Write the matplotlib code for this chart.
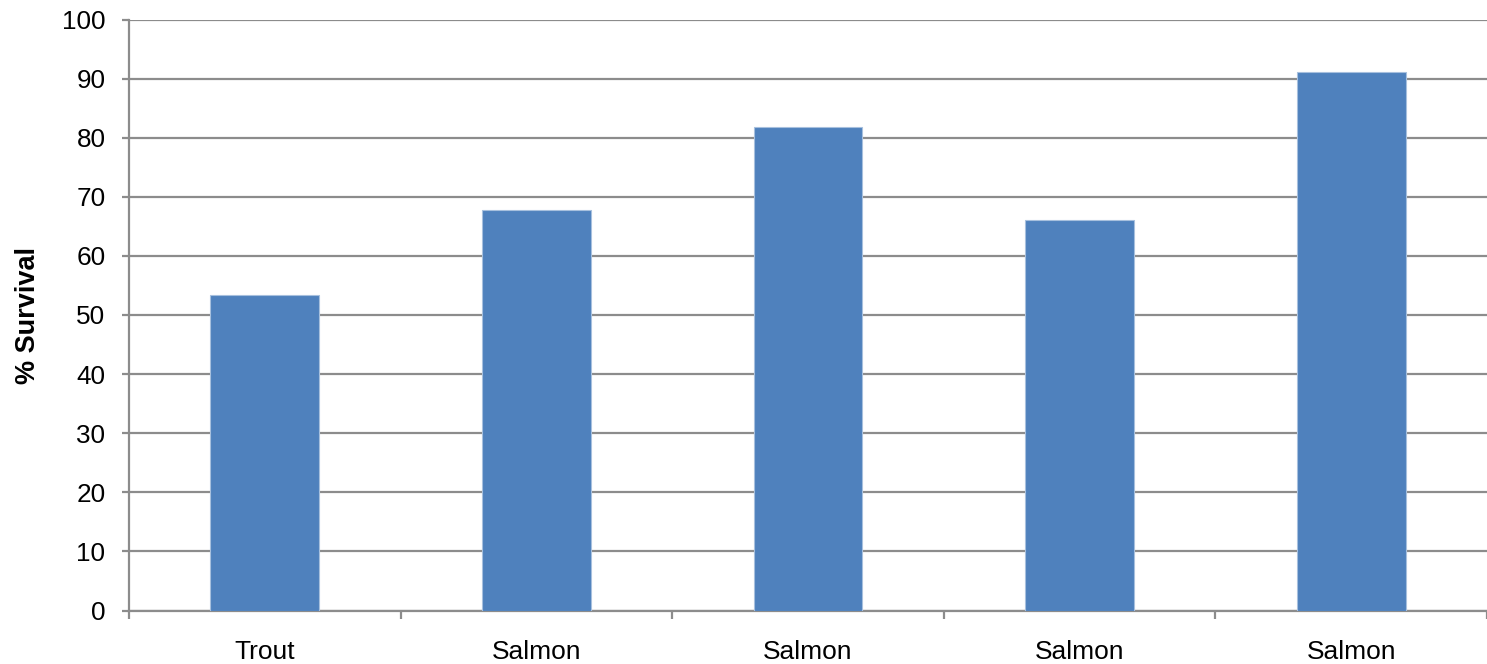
import numpy as np
import matplotlib.pyplot as plt

categories = ['Trout', 'Salmon', 'Salmon', 'Salmon', 'Salmon']
survival = [53.4, 67.7, 81.8, 66.0, 91.1]
yticks = list(range(0, 101, 10))

plt.rcParams['font.family'] = ['Liberation Sans', 'DejaVu Sans']

fig = plt.figure(figsize=(14.87, 6.64), dpi=100)
W, H = 1487, 664
ax = fig.add_axes([129 / W, 1 - 610.5 / H, (1487 - 129) / W, 591 / H])

x = np.arange(len(categories))
ax.bar(x, survival, width=0.4, color='#4F81BD', edgecolor='#A7C0DE', linewidth=0.8, zorder=3)

ax.set_xlim(-0.5, len(categories) - 0.5)
ax.set_ylim(0, 100)
ax.set_yticks(yticks)
ax.set_yticklabels([str(v) for v in yticks], fontsize=18.8)
ax.yaxis.grid(True, color='#8C8C8C', linewidth=1.6, zorder=0)
ax.set_axisbelow(True)

ax.set_xticks(x)
ax.set_xticklabels(categories, fontsize=19)
ax.set_xticks(np.arange(-0.5, len(categories)), minor=True)
ax.tick_params(axis='x', which='major', length=0, pad=21.5)
ax.tick_params(axis='x', which='minor', length=6, width=1.6, color='#8C8C8C', direction='out')
ax.tick_params(axis='y', length=5, width=1.6, color='#8C8C8C', pad=12)

for s in ['top', 'right']:
    ax.spines[s].set_visible(False)
for s in ['left', 'bottom']:
    ax.spines[s].set_color('#8C8C8C')
    ax.spines[s].set_linewidth(1.6)

ax.set_ylabel('% Survival', fontsize=19.5, fontweight='bold')
ax.yaxis.set_label_coords(-0.065, 0.5)

fig.savefig('out.png', dpi=100)
